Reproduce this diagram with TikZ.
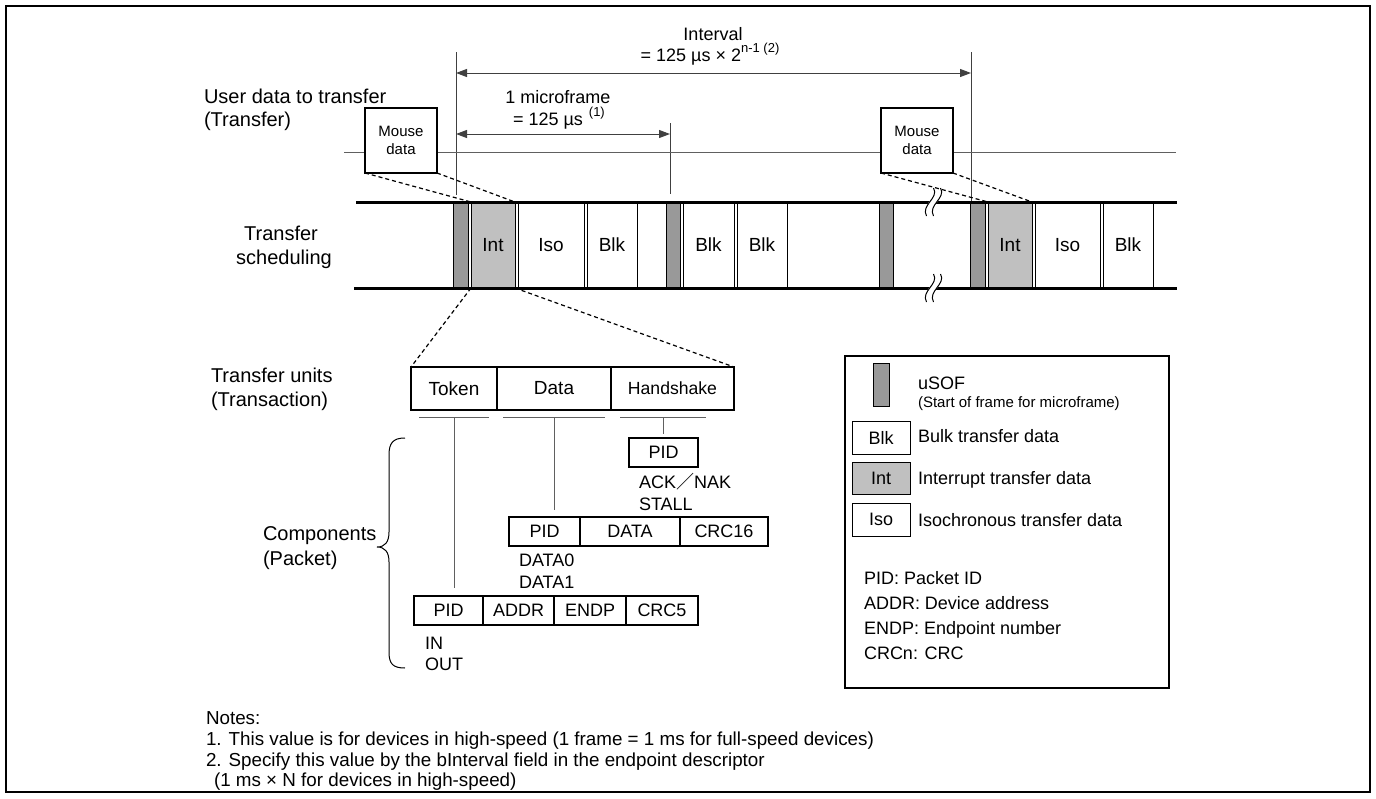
\documentclass[tikz,border=0pt]{standalone}
\usepackage{fontspec}
\setmainfont{Liberation Sans}
\newfontfamily\cjkfont{Noto Sans CJK JP}
\usetikzlibrary{arrows.meta}
\definecolor{sofgray}{HTML}{999999}
\definecolor{intgray}{HTML}{C0C0C0}
\definecolor{linegray}{HTML}{606060}
\newcommand\fs[1]{\fontsize{#1}{#1}\selectfont}
\newcommand\sups[1]{\raisebox{0.5em}{\fontsize{6.5}{6.5}\selectfont #1}}
\newcommand\boxnode[7]{\node[#6, minimum width={(#3-#2)*0.5pt}, minimum height={(#5-#4)*0.5pt}] (#1) at ({(#2+#3)/2},{(#4+#5)/2}) {#7};}
\newcommand\brkmark[2]{%
  \draw[white, line width=3pt] ({#1+4},{#2-9}) .. controls ({#1+8},{#2-3}) and ({#1-7},{#2+2}) .. ({#1-3},{#2+9});
  \draw[line width=0.5pt] ({#1+0.5},{#2-14}) .. controls ({#1+6.5},{#2-4}) and ({#1-12.5},{#2+3}) .. ({#1-6.5},{#2+14});
  \draw[line width=0.5pt] ({#1+7.5},{#2-14}) .. controls ({#1+13.5},{#2-4}) and ({#1-5.5},{#2+3}) .. ({#1+0.5},{#2+14});}
\begin{document}
\begin{tikzpicture}[x=0.5pt,y=-0.5pt,
  every node/.style={inner sep=0pt, outer sep=0pt},
  lbl/.style={anchor=base west, font=\fs{10}},
  lblc/.style={anchor=base, font=\fs{10}},
  small/.style={anchor=base west, font=\fs{9}},
  smallc/.style={anchor=base, font=\fs{9}},
  note/.style={anchor=base west, font=\fs{9.4}},
  mouse/.style={draw, line width=0.75pt, fill=white, align=center, font=\fontsize{7.5}{9}\selectfont},
  slot/.style={draw, line width=0.4pt, font=\fs{9.5}},
  sof/.style={slot, fill=sofgray},
  intr/.style={slot, fill=intgray},
  unit/.style={draw, line width=0.7pt, font=\fs{9.5}},
  cell/.style={draw, line width=0.6pt, font=\fs{9}},
  dim/.style={line width=0.5pt, draw=black!75},
  dimarrow/.style={dim, {Triangle[length=5.5pt,width=4pt]}-{Triangle[length=5.5pt,width=4pt]}},
  dashline/.style={line width=0.6pt, dash pattern=on 2pt off 1.5pt},
  barline/.style={line width=1.5pt},
  thinline/.style={line width=0.45pt, draw=linegray},
]
\useasboundingbox (0,0) rectangle (1376,798);
\draw[line width=1pt] (6,6) rectangle (1370,792);

% dimension lines
\coordinate (vA) at (456,52); \coordinate (vAb) at (456,195);
\coordinate (vB) at (971,52); \coordinate (vBb) at (971,202);
\coordinate (vC) at (670,123); \coordinate (vCb) at (670,194);
\coordinate (ivL) at (456,73); \coordinate (ivR) at (971,73);
\coordinate (mfL) at (456,134); \coordinate (mfR) at (670,134);
\draw[dim] (vA) -- (vAb);
\draw[dim] (vB) -- (vBb);
\draw[dim] (vC) -- (vCb);
\draw[dimarrow] (ivL) -- (ivR);
\draw[dimarrow] (mfL) -- (mfR);

\node[smallc] (ivt) at (713,40) {Interval};
\node[smallc] (ivf) at (710,61) {= 125 µs × 2\sups{n-1 (2)}};
\node[smallc] (mft) at (558,103.5) {1 microframe};
\node[small] (mff) at (513,125.5) {= 125 µs\hspace{3pt}\sups{(1)}};

% timeline
\coordinate (tlL) at (344,152); \coordinate (tlR) at (1176,152);
\draw[thinline] (tlL) -- (tlR);
\boxnode{m1}{365}{437}{108}{173}{mouse}{Mouse\\data}
\boxnode{m2}{881}{953}{108}{173}{mouse}{Mouse\\data}

\node[lbl] (ud1) at (204,103) {User data to transfer};
\node[lbl] (ud2) at (204,126) {(Transfer)};
\node[lblc] (ts1) at (281,240) {Transfer};
\node[lblc] (ts2) at (284,264) {scheduling};

% schedule slots
\boxnode{s1}{453}{468}{202}{288}{sof}{}
\boxnode{i1}{471}{515}{202}{288}{intr}{Int}
\boxnode{o1}{518}{584}{202}{288}{slot}{Iso}
\boxnode{b1}{587}{637}{202}{288}{slot}{Blk}
\boxnode{s2}{666}{680}{202}{288}{sof}{}
\boxnode{b2}{683}{734}{202}{288}{slot}{Blk}
\boxnode{b3}{737}{787}{202}{288}{slot}{Blk}
\boxnode{s3}{879}{893}{202}{288}{sof}{}
\boxnode{s4}{970}{985}{202}{288}{sof}{}
\boxnode{i2}{988}{1032}{202}{288}{intr}{Int}
\boxnode{o2}{1035}{1100}{202}{288}{slot}{Iso}
\boxnode{b4}{1103}{1153}{202}{288}{slot}{Blk}
\draw[barline] (356,202) -- (1177,202);
\draw[barline] (354,288) -- (1177,288);
\brkmark{933}{202}
\brkmark{933}{288}

\draw[dashline] (m1.south west) -- (i1.north west);
\draw[dashline] (m1.south east) -- (i1.north east);
\draw[dashline] (m2.south west) -- (i2.north west);
\draw[dashline] (m2.south east) -- (i2.north east);

% transaction
\boxnode{tok}{411}{497}{367}{410}{unit}{Token}
\boxnode{dat}{497}{611}{367}{410}{unit}{Data}
\boxnode{hs}{611}{734}{367}{410}{unit, font=\fs{8.8}}{Handshake}
\draw[dashline] (i1.south west) -- (tok.north west);
\draw[dashline] (i1.south east) -- (hs.north east);
\node[lbl] (tu1) at (211,382) {Transfer units};
\node[lbl] (tu2) at (211,406) {(Transaction)};

\draw[thinline] (419,417) -- (489,417);
\draw[thinline] (503,417) -- (605,417);
\draw[thinline] (620,417) -- (706,417);
\coordinate (u1) at (454,417); \coordinate (u1e) at (454,588);
\coordinate (u2) at (554,417); \coordinate (u2e) at (554,510);
\coordinate (u3) at (663,417); \coordinate (u3e) at (663,434);
\draw[thinline] (u1) -- (u1e);
\draw[thinline] (u2) -- (u2e);
\draw[thinline] (u3) -- (u3e);

% packets
\boxnode{hpid}{629}{698}{438}{467}{cell}{PID}
\node[small] (ack) at (639,488.5) {ACK{\cjkfont ／}NAK};
\node[small] (stall) at (639,510.5) {STALL};
\boxnode{dpid}{509}{580}{517}{546}{cell}{PID}
\boxnode{ddat}{580}{680}{517}{546}{cell}{DATA}
\boxnode{dcrc}{680}{768}{517}{546}{cell}{CRC16}
\node[small] (d0) at (519,566.5) {DATA0};
\node[small] (d1) at (519,588.5) {DATA1};
\boxnode{tpid}{414}{483}{596}{625}{cell}{PID}
\boxnode{tadr}{483}{554}{596}{625}{cell}{ADDR}
\boxnode{tend}{554}{626}{596}{625}{cell}{ENDP}
\boxnode{tcrc}{626}{698}{596}{625}{cell}{CRC5}
\node[small] (in) at (425,649.5) {IN};
\node[small] (out) at (425,670.5) {OUT};

\draw[line width=0.5pt] (405,438) .. controls (393,438) and (389,443) .. (389,455) -- (389,532) .. controls (389,542) and (385,547) .. (377,547) .. controls (385,547) and (389,552) .. (389,562) -- (389,652) .. controls (389,664) and (393,668) .. (405,668);
\node[lbl] (co1) at (263,540) {Components};
\node[lbl] (co2) at (263,565) {(Packet)};

% legend
\boxnode{leg}{845}{1169}{356}{688}{draw, line width=0.6pt}{}
\boxnode{lsof}{873}{889}{363}{406}{sof}{}
\boxnode{lblk}{852}{910}{421}{454}{slot, font=\fs{9}}{Blk}
\boxnode{lint}{852}{910}{462}{494}{intr, font=\fs{9}}{Int}
\boxnode{liso}{852}{910}{503}{536}{slot, font=\fs{9}}{Iso}
\node[small] (lt1) at (918,389.5) {uSOF};
\node[anchor=base west, font=\fs{7.5}] (lt1b) at (918,407.5) {(Start of frame for microframe)};
\node[small] (lt2) at (918,442.5) {Bulk transfer data};
\node[small] (lt3) at (918,484.5) {Interrupt transfer data};
\node[small] (lt4) at (918,526.5) {Isochronous transfer data};
\node[small] (lt5) at (864,584) {PID: Packet ID};
\node[small] (lt6) at (864,609) {ADDR: Device address};
\node[small] (lt7) at (864,634) {ENDP: Endpoint number};
\node[small] (lt8) at (864,659) {CRCn: CRC};

% notes
\node[note] (n0) at (206,724.5) {Notes:};
\node[note] (n1) at (206,745.5) {1. This value is for devices in high-speed (1 frame = 1 ms for full-speed devices)};
\node[note] (n2) at (206,766.5) {2. Specify this value by the bInterval field in the endpoint descriptor};
\node[note] (n3) at (214,786.5) {(1 ms × N for devices in high-speed)};
\end{tikzpicture}
\end{document}
